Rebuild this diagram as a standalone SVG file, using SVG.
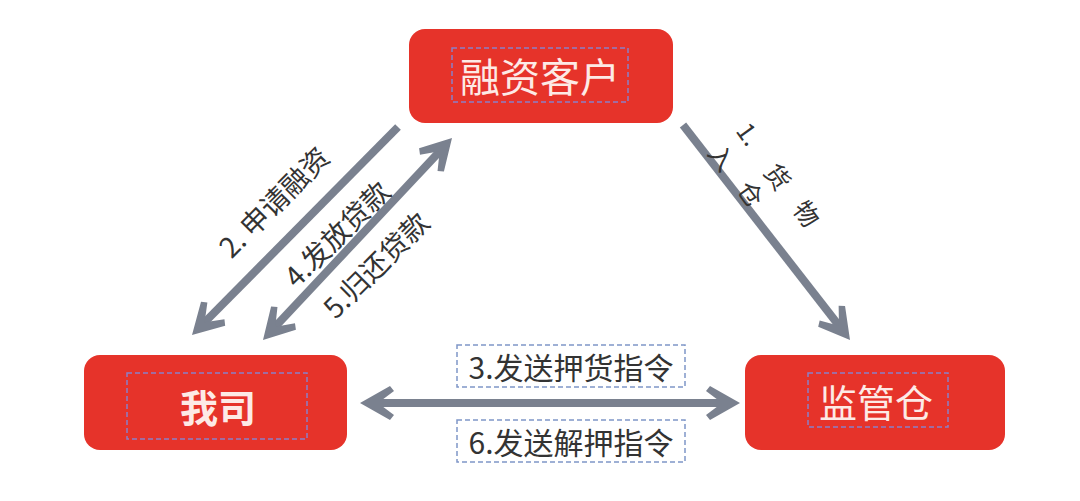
<svg xmlns="http://www.w3.org/2000/svg" width="1080" height="501" viewBox="0 0 1080 501">
<style>
.node{fill:#e6332a;}
.ndash{fill:none;stroke:#8a80c8;stroke-width:1.5;stroke-dasharray:5 3;}
.ldash{fill:none;stroke:#7f96c8;stroke-width:1.5;stroke-dasharray:5 3;}
.ntext{fill:#fdeae6;font-family:"Noto Sans CJK SC",sans-serif;text-anchor:middle;dominant-baseline:central;}
.ltext{fill:#333;font-family:"Noto Sans CJK SC",sans-serif;text-anchor:middle;dominant-baseline:central;}
.shaft{stroke:#7a818f;stroke-width:8;fill:none;}
.head{fill:#7a818f;}
</style>
<defs>
<path id="ah" d="M0,0 L-30,-17 L-34,-12 L-18,0 L-34,12 L-30,17 Z"/>
</defs>
<rect width="1080" height="501" fill="#ffffff"/>

<g id="node-client">
<rect class="node" x="409" y="29" width="264" height="94" rx="16"/>
<rect class="ndash" x="452" y="48" width="176" height="54"/>
<text class="ntext" x="540" y="75" font-size="40">融资客户</text>
</g>

<g id="node-us">
<rect class="node" x="84" y="355" width="263" height="95" rx="16"/>
<rect class="ndash" x="127" y="373" width="180" height="66"/>
<text class="ntext" x="218" y="405" font-size="38" font-weight="bold">我司</text>
</g>

<g id="node-warehouse">
<rect class="node" x="745" y="355" width="260" height="95" rx="16"/>
<rect class="ndash" x="808" y="373" width="140" height="54"/>
<text class="ntext" x="876" y="400" font-size="38">监管仓</text>
</g>

<g id="connectors">
<line class="shaft" x1="398" y1="127" x2="203" y2="324"/>
<use href="#ah" class="head" transform="translate(192,335) rotate(134.7)"/>

<line class="shaft" x1="274" y1="328" x2="441" y2="150"/>
<use href="#ah" class="head" transform="translate(452,138) rotate(-46.9)"/>
<use href="#ah" class="head" transform="translate(263,340) rotate(133.1)"/>

<line class="shaft" x1="683" y1="125" x2="840" y2="327"/>
<use href="#ah" class="head" transform="translate(850,340) rotate(52.2)"/>

<line class="shaft" x1="376" y1="403" x2="724" y2="403"/>
<use href="#ah" class="head" transform="translate(360,403) rotate(180)"/>
<use href="#ah" class="head" transform="translate(740,403)"/>
</g>

<g id="labels">
<text class="ltext" font-size="28" transform="translate(273,201) rotate(-45)">2. 申请融资</text>
<text class="ltext" font-size="28" transform="translate(336,233) rotate(-45)">4.发放贷款</text>
<text class="ltext" font-size="28" transform="translate(375,264) rotate(-45)">5.归还贷款</text>

<text class="ltext" font-size="25" transform="translate(750,133) rotate(54)">1.</text>
<text class="ltext" font-size="25" transform="translate(779,176) rotate(54)">货</text>
<text class="ltext" font-size="25" transform="translate(808,213) rotate(54)">物</text>
<text class="ltext" font-size="25" transform="translate(723,157) rotate(54)">入</text>
<text class="ltext" font-size="25" transform="translate(752,193) rotate(54)">仓</text>

<rect class="ldash" x="457" y="345" width="228" height="42"/>
<text class="ltext" x="571" y="366" font-size="30">3.发送押货指令</text>
<rect class="ldash" x="457" y="420" width="228" height="42"/>
<text class="ltext" x="571" y="441" font-size="30">6.发送解押指令</text>
</g>
</svg>
